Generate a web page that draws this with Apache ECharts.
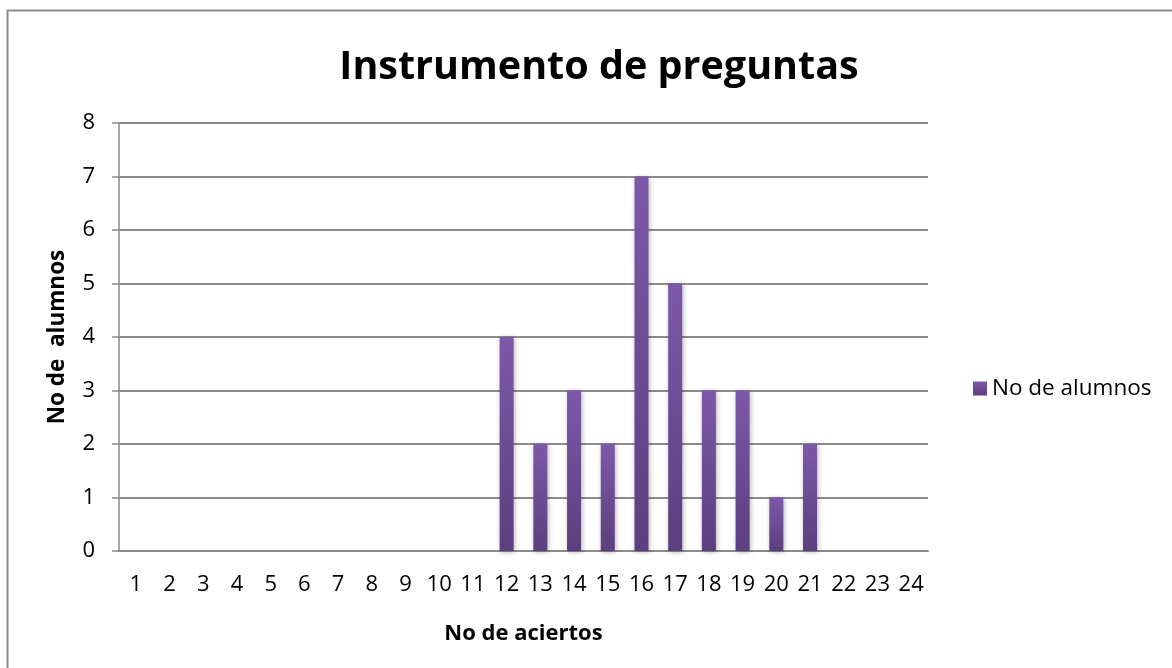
<!DOCTYPE html>
<html>
<head>
<meta charset="utf-8">
<script src="https://cdn.jsdelivr.net/npm/echarts@6/dist/echarts.min.js"></script>
<style>
  html, body { margin: 0; padding: 0; background: #fff; }
  #main { width: 1172px; height: 668px; }
</style>
</head>
<body>
<div id="main"></div>
<script>
// datos del grafico
var aciertos = ['1','2','3','4','5','6','7','8','9','10','11','12','13','14','15','16','17','18','19','20','21','22','23','24'];
var alumnos = [0,0,0,0,0,0,0,0,0,0,0,4,2,3,2,7,5,3,3,1,2,0,0,0];
var yTicks = [0,1,2,3,4,5,6,7,8];

var font = 'Open Sans';
var myChart = echarts.init(document.getElementById('main'));

var option = {
  backgroundColor: '#fff',
  animation: false,
  title: {
    text: 'Instrumento de preguntas',
    left: 594,
    top: 43,
    textAlign: 'center',
    textStyle: { fontFamily: font, fontWeight: 'bold', fontSize: 39.5, color: '#000' }
  },
  legend: {
    orient: 'vertical',
    left: 968,
    top: 372,
    itemWidth: 14,
    itemHeight: 14,
    itemGap: 6,
    textStyle: { fontFamily: font, fontSize: 22.5, color: '#000' },
    data: [{ name: 'No de alumnos', icon: 'rect' }]
  },
  grid: { left: 119, top: 123, right: 244, bottom: 117 },
  xAxis: {
    type: 'category',
    data: aciertos,
    name: 'No de aciertos',
    nameLocation: 'middle',
    nameGap: 72,
    nameTextStyle: { fontFamily: font, fontWeight: 'bold', fontSize: 22, color: '#000' },
    axisLine: { lineStyle: { color: '#8c8c8c', width: 2 } },
    axisTick: { show: false },
    axisLabel: { fontFamily: font, fontSize: 22, color: '#000', margin: 23 }
  },
  yAxis: {
    type: 'value',
    min: 0,
    max: yTicks[yTicks.length - 1],
    interval: 1,
    name: 'No de  alumnos',
    nameLocation: 'middle',
    nameGap: 50,
    nameTextStyle: { fontFamily: font, fontWeight: 'bold', fontSize: 22.5, color: '#000' },
    axisLine: { show: true, lineStyle: { color: '#8c8c8c', width: 1.5 } },
    axisTick: { show: true, inside: false, length: 7, lineStyle: { color: '#8c8c8c', width: 1.5 } },
    axisLabel: { fontFamily: font, fontSize: 22, color: '#000', margin: 24 },
    splitLine: { lineStyle: { color: '#8c8c8c', width: 2 } }
  },
  series: [{
    name: 'No de alumnos',
    type: 'bar',
    data: alumnos,
    barWidth: 14,
    itemStyle: {
      color: new echarts.graphic.LinearGradient(0, 0, 0, 1, [
        { offset: 0, color: '#7d58a9' },
        { offset: 1, color: '#5c3f7e' }
      ]),
      shadowBlur: 5,
      shadowColor: 'rgba(0,0,0,0.3)',
      shadowOffsetX: 1,
      shadowOffsetY: 1
    }
  }],
  graphic: [{
    type: 'rect',
    shape: { x: 7.5, y: 10.5, width: 1200, height: 700 },
    style: { fill: 'none', stroke: '#8c8c8c', lineWidth: 2 },
    silent: true
  }]
};

myChart.setOption(option);
</script>
</body>
</html>
